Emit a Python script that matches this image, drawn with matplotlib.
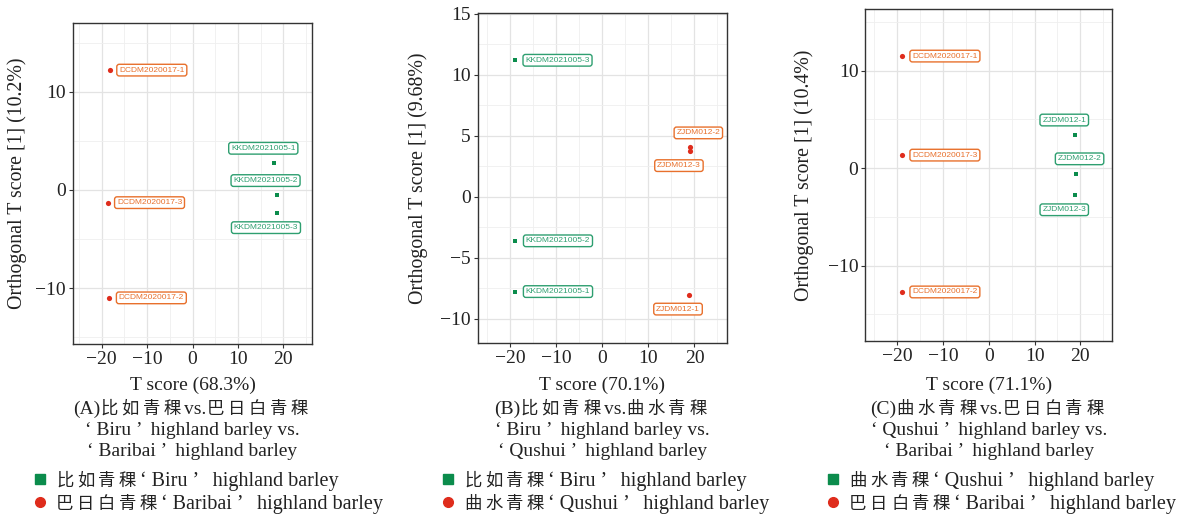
import matplotlib
matplotlib.use("Agg")
import matplotlib.pyplot as plt
from matplotlib.lines import Line2D
from matplotlib.ticker import MultipleLocator

plt.rcParams['font.family'] = ['Liberation Serif', 'Noto Sans CJK SC', 'DejaVu Sans']
plt.rcParams['axes.unicode_minus'] = True

W, H = 1190, 517
fig = plt.figure(figsize=(W / 100, H / 100), dpi=100)
renderer = fig.canvas.get_renderer()

GREEN_PT = '#0b8c4c'
GREEN_LB = '#2e9f70'
RED_PT = '#df2c1c'
ORANGE_LB = '#e8702c'
TXT = '#222222'

# ---------------- data ----------------
# Panel A: Biru vs Baribai
A_green_names = ['KKDM2021005-1', 'KKDM2021005-2', 'KKDM2021005-3']
A_green_x = [18.0, 18.5, 18.5]
A_green_y = [2.75, -0.55, -2.35]
A_red_names = ['DCDM2020017-1', 'DCDM2020017-2', 'DCDM2020017-3']
A_red_x = [-18.2, -18.3, -18.7]
A_red_y = [12.2, -11.0, -1.3]

# Panel B: Biru vs Qushui
B_green_names = ['KKDM2021005-1', 'KKDM2021005-2', 'KKDM2021005-3']
B_green_x = [-19.0, -19.0, -19.1]
B_green_y = [-7.76, -3.6, 11.2]
B_red_names = ['ZJDM012-1', 'ZJDM012-2', 'ZJDM012-3']
B_red_x = [18.9, 19.1, 19.1]
B_red_y = [-8.0, 4.1, 3.77]

# Panel C: Qushui vs Baribai
C_green_names = ['ZJDM012-1', 'ZJDM012-2', 'ZJDM012-3']
C_green_x = [18.9, 19.1, 18.9]
C_green_y = [3.4, -0.55, -2.8]
C_red_names = ['DCDM2020017-1', 'DCDM2020017-2', 'DCDM2020017-3']
C_red_x = [-19.0, -19.0, -19.0]
C_red_y = [11.5, -12.7, 1.34]

x_labels = ['T score (68.3%)', 'T score (70.1%)', 'T score (71.1%)']
y_labels = ['Orthogonal T score [1] (10.2%)', 'Orthogonal T score [1] (9.68%)',
            'Orthogonal T score [1] (10.4%)']
captions = [
    ['(A)比如青稞vs.巴日白青稞', '‘ Biru ’  highland barley vs.', '‘ Baribai ’  highland barley'],
    ['(B)比如青稞vs.曲水青稞', '‘ Biru ’  highland barley vs.', '‘ Qushui ’  highland barley'],
    ['(C)曲水青稞vs.巴日白青稞', '‘ Qushui ’  highland barley vs.', '‘ Baribai ’  highland barley'],
]
legend_green = ['比如青稞‘ Biru ’   highland barley', '比如青稞‘ Biru ’   highland barley',
                '曲水青稞‘ Qushui ’   highland barley']
legend_red = ['巴日白青稞‘ Baribai ’   highland barley', '曲水青稞‘ Qushui ’   highland barley',
              '巴日白青稞‘ Baribai ’   highland barley']

# ---------------- layout ----------------
boxes = [(73, 23, 312, 344), (477.7, 12.7, 726.7, 343.3), (865.3, 9.3, 1112.3, 340.7)]
xlims = [(-26.3, 26.3), (-27.1, 27.0), (-27.0, 27.0)]
ylims = [(-15.7, 17.0), (-12.0, 15.1), (-17.7, 16.3)]
ymaj = [10, 5, 10]
ylab_x = [17, 418, 804]
leg_x = [40, 448, 833]

A_green_off = [(-11, 14.6), (-11, 14.7), (-10.6, -14.7)]
A_red_off = [(42, 0), (42, 0), (42, 0)]
B_green_off = [(43, 0), (43, 0), (43, 0)]
B_red_off = [(-11.4, -14.6), (8, 14), (-11.4, -14.7)]
C_green_off = [(-11, 15), (3.4, 14.7), (-11, -14.3)]
C_red_off = [(43, 0), (43, 0), (43, 0)]

panels = [
    (A_green_names, A_green_x, A_green_y, A_green_off, A_red_names, A_red_x, A_red_y, A_red_off),
    (B_green_names, B_green_x, B_green_y, B_green_off, B_red_names, B_red_x, B_red_y, B_red_off),
    (C_green_names, C_green_x, C_green_y, C_green_off, C_red_names, C_red_x, C_red_y, C_red_off),
]


def fx(px):
    return px / W


def fy(py):
    return 1 - py / H


def is_cjk(c):
    return 0x2E80 <= ord(c) <= 0x9FFF


def draw_mixed(x, y_base, s, lat_size=14, cjk_size=12.5, pitch=21, ha='left'):
    """Draw string with spaced CJK glyphs and serif Latin runs; x,y in pixels."""
    runs = []
    for c in s:
        k = 'c' if is_cjk(c) else 'l'
        if runs and runs[-1][0] == k and k == 'l':
            runs[-1][1] += c
        else:
            runs.append([k, c])
    sp = 0.25 * lat_size * 100 / 72
    items = []
    total = 0
    for k, t in runs:
        if k == 'c':
            obj = fig.text(0, fy(y_base), t, fontsize=cjk_size, color=TXT,
                           ha='left', va='baseline', family=['Noto Sans CJK SC'])
            lead, w, trail = 0, pitch, 0
        else:
            core = t.strip(' ')
            lead = (len(t) - len(t.lstrip(' '))) * sp
            trail = (len(t) - len(t.rstrip(' '))) * sp
            obj = fig.text(0, fy(y_base), core, fontsize=lat_size, color=TXT,
                           ha='left', va='baseline')
            w = obj.get_window_extent(renderer).width
        items.append((obj, lead, w, trail))
        total += lead + w + trail
    cur = x - total / 2 if ha == 'center' else x
    for obj, lead, w, trail in items:
        cur += lead
        obj.set_x(fx(cur))
        cur += w + trail


for i, (gn, gx, gy, goff, rn, rx, ry, roff) in enumerate(panels):
    l, t, r, b = boxes[i]
    ax = fig.add_axes([fx(l), fy(b), (r - l) / W, (b - t) / H])
    ax.set_xlim(*xlims[i])
    ax.set_ylim(*ylims[i])
    ax.xaxis.set_major_locator(MultipleLocator(10))
    ax.xaxis.set_minor_locator(MultipleLocator(5))
    ax.yaxis.set_major_locator(MultipleLocator(ymaj[i]))
    ax.yaxis.set_minor_locator(MultipleLocator(ymaj[i] / 2))
    ax.grid(which='major', color='#e3e3e3', lw=0.9)
    ax.grid(which='minor', color='#efefef', lw=0.6)
    ax.set_axisbelow(True)
    for s in ax.spines.values():
        s.set_color('#333333')
        s.set_linewidth(1.0)
    ax.tick_params(which='major', length=3, width=0.8, color='#333333',
                   labelsize=14, labelcolor=TXT, pad=2)
    ax.tick_params(which='minor', length=0)

    ax.scatter(gx, gy, marker='s', s=12, color=GREEN_PT, zorder=3, linewidths=0)
    ax.scatter(rx, ry, marker='o', s=14, color=RED_PT, zorder=3, linewidths=0)
    for names, xs, ys, offs, col in ((gn, gx, gy, goff, GREEN_LB), (rn, rx, ry, roff, ORANGE_LB)):
        for nm, x, y, (dx, dy) in zip(names, xs, ys, offs):
            ax.annotate(nm, (x, y), xytext=(dx, dy), textcoords='offset pixels',
                        ha='center', va='center', fontsize=6, color=col,
                        family=['Liberation Sans'],
                        bbox=dict(boxstyle='round,pad=0.28,rounding_size=0.3',
                                  fc='white', ec=col, lw=1.0), zorder=4)

    cx = (l + r) / 2
    fig.text(fx(ylab_x[i]), fy((t + b) / 2), y_labels[i], rotation=90,
             ha='center', va='center', fontsize=14.3, color=TXT)
    draw_mixed(cx, 390, x_labels[i], ha='center')
    draw_mixed(cx, 414, captions[i][0], pitch=21, ha='center')
    draw_mixed(cx, 435, captions[i][1], ha='center')
    draw_mixed(cx, 455.5, captions[i][2], ha='center')

    # legend
    fig.add_artist(Line2D([fx(leg_x[i])], [fy(479)], marker='s', ms=6.5,
                          color=GREEN_PT, ls='none', transform=fig.transFigure))
    fig.add_artist(Line2D([fx(leg_x[i])], [fy(502)], marker='o', ms=7,
                          color=RED_PT, ls='none', transform=fig.transFigure))
    draw_mixed(leg_x[i] + 16, 486, legend_green[i], lat_size=14.5)
    draw_mixed(leg_x[i] + 16, 509, legend_red[i], lat_size=14.5)

fig.savefig('out.png', dpi=100)
